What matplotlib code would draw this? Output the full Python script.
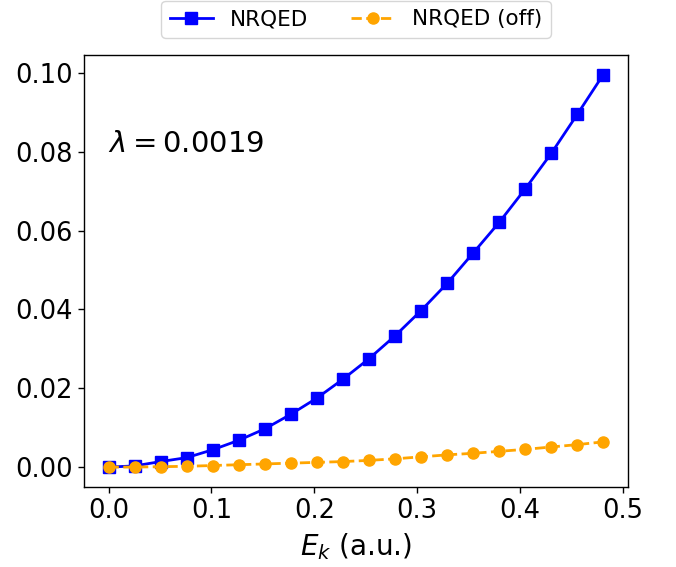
import numpy as np
import matplotlib
matplotlib.use('Agg')
import matplotlib.pyplot as plt

# kinetic energy grid (a.u.)
ek = [0.0, 0.0253, 0.0506, 0.0760, 0.1013, 0.1266, 0.1519, 0.1772, 0.2025, 0.2279,
      0.2532, 0.2785, 0.3038, 0.3291, 0.3544, 0.3798, 0.4051, 0.4304, 0.4557, 0.4810]

nrqed = [0.0, 0.0003, 0.0014, 0.0024, 0.0044, 0.0068, 0.0097, 0.0134, 0.0175, 0.0223,
         0.0275, 0.0333, 0.0397, 0.0466, 0.0543, 0.0621, 0.0706, 0.0796, 0.0895, 0.0996]

nrqed_off = [0.0, 0.0, 0.0001, 0.0002, 0.0004, 0.0006, 0.0008, 0.0010, 0.0012, 0.0014,
             0.0017, 0.0021, 0.0026, 0.0031, 0.0035, 0.0040, 0.0045, 0.0051, 0.0057, 0.0064]

lam = 0.0019

fig = plt.figure(figsize=(6.76, 5.67), dpi=100)
ax = fig.add_axes([0.124, 0.1416, 0.805, 0.7614])

ax.plot(ek, nrqed, '-s', color='blue', lw=2, ms=8, label='NRQED')
ax.plot(ek, nrqed_off, '--o', color='orange', lw=2, ms=8, label='NRQED (off)')

ax.set_xlabel(r'$E_k$ (a.u.)', fontsize=20, labelpad=5)
ax.tick_params(labelsize=18.5, width=1.0, length=4.5)
for s in ax.spines.values():
    s.set_linewidth(1.0)

ax.text(0.045, 0.795, r'$\lambda = %.4f$' % lam, transform=ax.transAxes,
        fontsize=21, va='center')

ax.legend(loc='lower center', bbox_to_anchor=(0.5, 1.0), borderaxespad=0.8,
          ncol=2, fontsize=15.5, handlelength=2.0, columnspacing=2.0)

fig.savefig('out.png', dpi=100)
